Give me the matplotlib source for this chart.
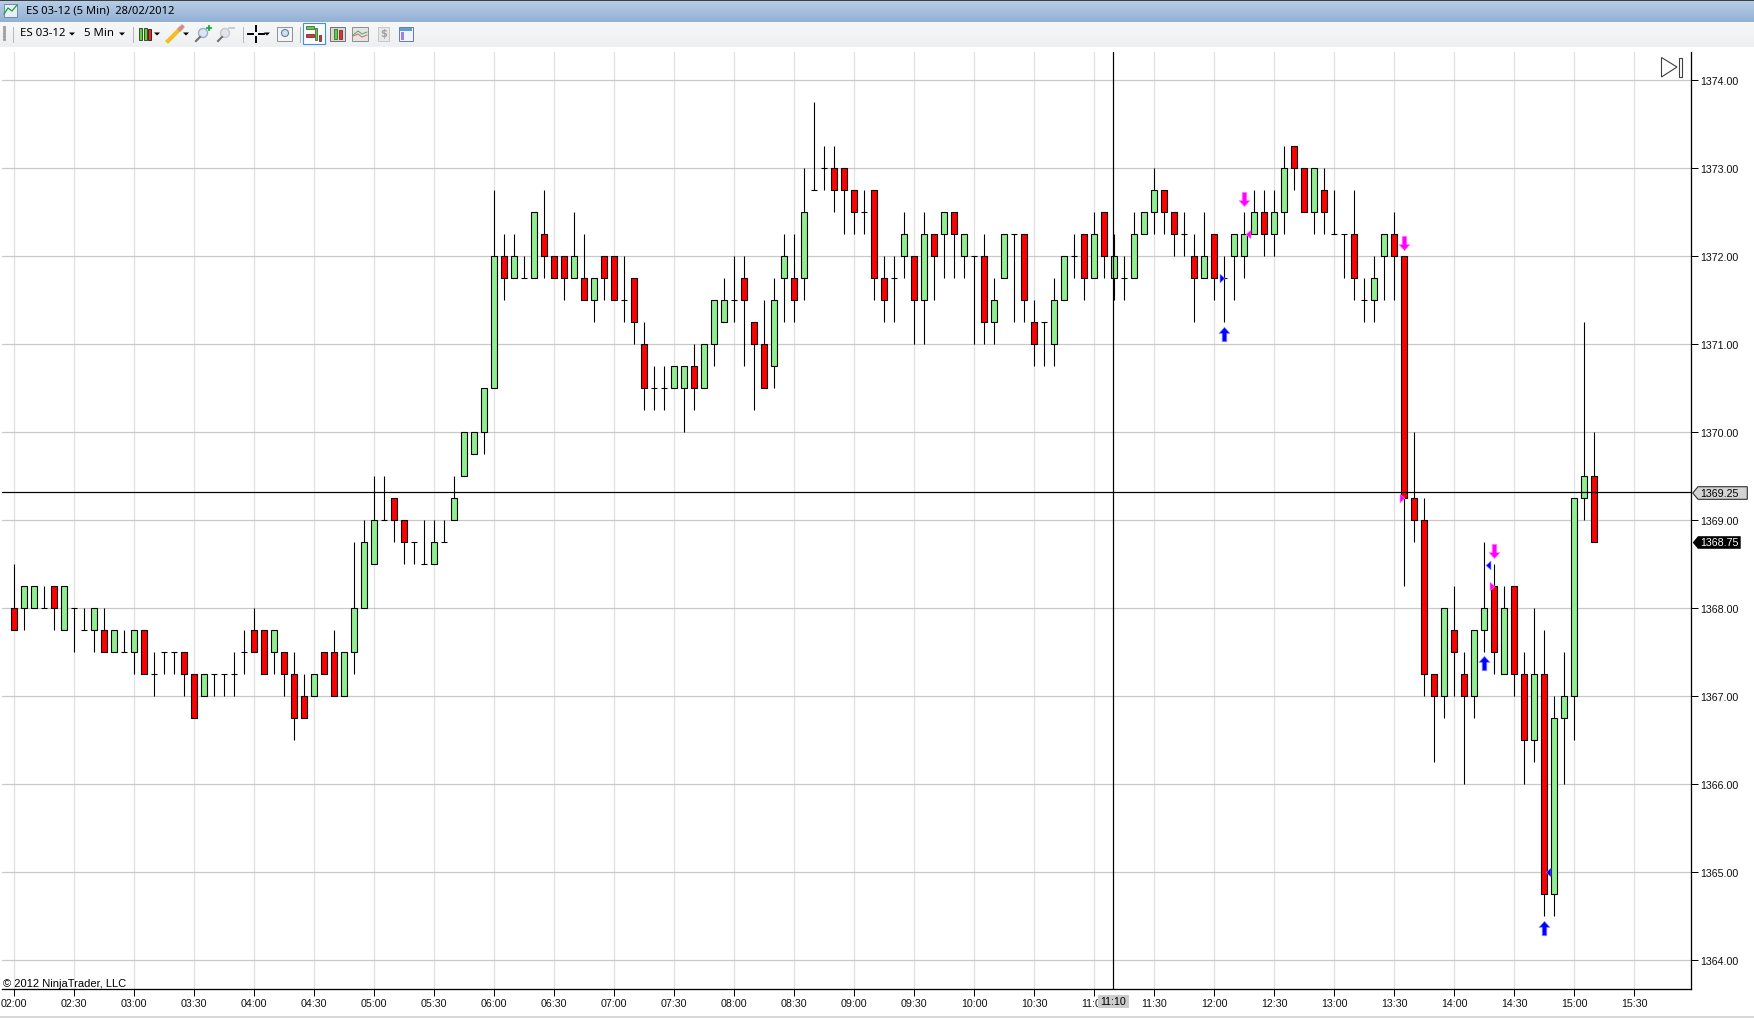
import numpy as np
import matplotlib
matplotlib.use("Agg")
import matplotlib.pyplot as plt
from matplotlib.path import Path
from matplotlib.patches import Polygon, Rectangle, Circle
from matplotlib.transforms import ScaledTranslation

W, H = 1754, 1018
PX = 72 / 100  # one pixel in points

opens = [1368,1368,1368,1368,1368.25,1367.75,1368,1367.75,1367.75,1367.75,
    1367.5,1367.5,1367.5,1367.75,1367.25,1367.5,1367.5,1367.5,1367.25,1367,
    1367.25,1367.25,1367.25,1367.5,1367.75,1367.75,1367.5,1367.5,1367.25,1367,
    1367,1367.5,1367.5,1367,1367.5,1368,1368.5,1369,1369.25,1369,
    1368.75,1368.5,1368.5,1368.75,1369,1369.5,1369.75,1370,1370.5,1372,
    1371.75,1371.75,1371.75,1372.25,1372,1372,1371.75,1371.75,1371.5,1372,
    1372,1371.5,1371.75,1371,1370.5,1370.5,1370.5,1370.5,1370.75,1370.5,
    1371,1371.25,1371.5,1371.75,1371.25,1371,1370.75,1371.75,1371.75,1371.75,
    1372.75,1373,1373,1373,1372.75,1372.5,1372.75,1371.75,1371.75,1372,
    1372,1371.5,1372.25,1372.25,1372.5,1372,1372,1372,1371.25,1371.75,
    1372.25,1372.25,1371.25,1371.25,1371,1371.5,1372,1372.25,1371.75,1372.5,
    1371.75,1371.75,1371.75,1372.25,1372.5,1372.75,1372.5,1372.25,1372,1371.75,
    1372.25,1371.75,1372,1372,1372.25,1372.5,1372.25,1372.5,1373.25,1373,
    1372.5,1372.75,1372.25,1372.25,1372.25,1371.5,1371.5,1372,1372.25,1372,
    1369.25,1369,1367.25,1367,1367.75,1367.25,1367,1367.75,1368.25,1367.25,
    1368.25,1367.25,1366.5,1367.25,1364.75,1366.75,1367,1369.25,1369.5]
highs = [1368.5,1368.25,1368.25,1368.25,1368.25,1368.25,1368,1368,1368,1368,
    1367.75,1367.75,1367.75,1367.75,1367.5,1367.5,1367.5,1367.5,1367.25,1367.25,
    1367.25,1367.25,1367.5,1367.75,1368,1367.75,1367.75,1367.5,1367.5,1367.25,
    1367.25,1367.5,1367.75,1367.5,1368.75,1369,1369.5,1369.5,1369.25,1369,
    1368.75,1369,1369,1369,1369.5,1370,1370,1370.5,1372.75,1372.25,
    1372.25,1372,1372.5,1372.75,1372,1372,1372.5,1372.25,1371.75,1372,
    1372,1372,1371.75,1371.25,1370.75,1370.75,1370.75,1370.75,1371,1371,
    1371.5,1371.75,1372,1372,1371.25,1371.5,1371.75,1372.25,1372.25,1373,
    1373.75,1373.25,1373.25,1373,1372.75,1372.75,1372.75,1372,1372,1372.5,
    1372,1372.5,1372.25,1372.5,1372.5,1372.25,1372,1372.25,1371.75,1372.25,
    1372.25,1372.25,1371.5,1371.25,1371.75,1372,1372.25,1372.25,1372.5,1372.5,
    1372.25,1372,1372.5,1372.5,1373,1372.75,1372.5,1372.5,1372.25,1372.5,
    1372.25,1372,1372.25,1372.5,1372.75,1372.75,1372.75,1373.25,1373.25,1373,
    1373,1373,1372.75,1372.25,1372.75,1371.75,1372,1372.25,1372.5,1372,
    1370,1369.25,1367.25,1368,1368.25,1367.5,1367.75,1368.75,1368.5,1368.25,
    1368.25,1367.5,1368,1367.75,1367,1367.5,1369.25,1371.25,1370]
lows = [1367.75,1367.75,1368,1368,1367.75,1367.75,1367.5,1367.75,1367.5,1367.5,
    1367.5,1367.5,1367.25,1367.25,1367,1367.25,1367.25,1367,1366.75,1367,
    1367,1367,1367,1367.25,1367.5,1367.25,1367.25,1367,1366.5,1366.75,
    1367,1367.25,1367,1367,1367.25,1368,1368.5,1369,1368.75,1368.5,
    1368.5,1368.5,1368.5,1368.75,1369,1369.5,1369.75,1369.75,1370.5,1371.5,
    1371.75,1371.75,1371.75,1371.75,1371.75,1371.5,1371.75,1371.5,1371.25,1371.5,
    1371.5,1371.25,1371,1370.25,1370.25,1370.25,1370.5,1370,1370.25,1370.5,
    1370.75,1371.25,1371.25,1370.75,1370.25,1370.5,1370.5,1371.25,1371.25,1371.5,
    1372.75,1372.75,1372.5,1372.25,1372.25,1372.25,1371.5,1371.25,1371.25,1371.75,
    1371,1371,1371.5,1371.75,1371.75,1371.75,1371,1371,1371,1371.75,
    1371.25,1371.25,1370.75,1370.75,1370.75,1371.5,1371.75,1371.5,1371.75,1371.75,
    1371.5,1371.5,1371.75,1372.25,1372.25,1372.25,1372,1372,1371.25,1371.75,
    1371.5,1371.25,1371.5,1371.75,1372.25,1372,1372,1372.25,1372.75,1372.5,
    1372.25,1372.25,1372.25,1371.75,1371.5,1371.25,1371.25,1371.5,1371.5,1368.25,
    1368.75,1367,1366.25,1366.75,1367,1366,1366.75,1367.5,1367.25,1367.25,
    1367,1366,1366.25,1364.5,1364.5,1366,1366.5,1369,1368.75]
closes = [1367.75,1368.25,1368.25,1368,1368,1368.25,1368,1367.75,1368,1367.5,
    1367.75,1367.5,1367.75,1367.25,1367.25,1367.5,1367.5,1367.25,1366.75,1367.25,
    1367.25,1367.25,1367.25,1367.5,1367.5,1367.25,1367.75,1367.25,1366.75,1366.75,
    1367.25,1367.25,1367,1367.5,1368,1368.75,1369,1369,1369,1368.75,
    1368.75,1368.5,1368.75,1368.75,1369.25,1370,1370,1370.5,1372,1371.75,
    1372,1371.75,1372.5,1372,1371.75,1371.75,1372,1371.5,1371.75,1371.75,
    1371.5,1371.5,1371.25,1370.5,1370.5,1370.5,1370.75,1370.75,1370.5,1371,
    1371.5,1371.5,1371.5,1371.5,1371,1370.5,1371.5,1372,1371.5,1372.5,
    1372.75,1373,1372.75,1372.75,1372.5,1372.5,1371.75,1371.5,1371.75,1372.25,
    1371.5,1372.25,1372,1372.5,1372.25,1372.25,1372,1371.25,1371.5,1372.25,
    1372.25,1371.5,1371,1371.25,1371.5,1372,1372,1371.75,1372.25,1372,
    1372,1371.75,1372.25,1372.5,1372.75,1372.5,1372.25,1372.25,1371.75,1372,
    1371.75,1371.75,1372.25,1372.25,1372.5,1372.25,1372.5,1373,1373,1372.5,
    1373,1372.5,1372.25,1372.25,1371.75,1371.5,1371.75,1372.25,1372,1369.25,
    1369,1367.25,1367,1368,1367.5,1367,1367.75,1368,1367.5,1368,
    1367.25,1366.5,1367.25,1364.75,1366.75,1367,1369.25,1369.5,1368.75]

time_labels = ["02:00","02:30","03:00","03:30","04:00","04:30","05:00","05:30","06:00",
    "06:30","07:00","07:30","08:00","08:30","09:00","09:30","10:00","10:30","11:00",
    "11:30","12:00","12:30","13:00","13:30","14:00","14:30","15:00","15:30"]
price_ticks = [1364,1365,1366,1367,1368,1369,1370,1371,1372,1373,1374]

# signal arrows: bar index, price
buy_bars, buy_prices = [121,147,153], [1371.114,1367.374,1364.364]
sell_bars, sell_prices = [123,139,148], [1372.65,1372.15,1368.65]
# small fill triangles
blue_right = ([120.8],[1371.745])
blue_left = ([147.35,153.35],[1368.49,1365.0])
pink_left = ([123.35],[1372.245])
pink_right = ([138.8,147.8],[1369.245,1368.245])

cross_bar, cross_price = 109.9, 1369.318
cross_time, cross_label = "11:10", "1369.25"
last_price = 1368.75

# pixel layout of the window. agg snaps a 1px line to floor(x + .5) + .5 so
# whole numbers here land the lines on the same pixels as the screenshot
LEFT, RIGHT, TOP, BOTTOM = 2, 1691, 52, 989
X0, Y0 = 14, 520
def bar_px(i):
    return X0 + 10 * i
def price_px(p):
    return Y0 + (1369 - p) * 88

fig = plt.figure(figsize=(W / 100, H / 100), dpi=100, facecolor="white")
ax = fig.add_axes([LEFT / W, 1 - BOTTOM / H, (RIGHT - LEFT) / W, (BOTTOM - TOP) / H])
ax.set_xlim((LEFT - X0) / 10, (RIGHT - X0) / 10)
ax.set_ylim(1369 - (BOTTOM - Y0) / 88, 1369 + (Y0 - TOP) / 88)

FONT = "Liberation Sans"
ax.set_xticks(np.arange(len(time_labels)) * 6)
ax.set_xticklabels(time_labels, fontsize=7.7, family=FONT, color="#101010")
ax.set_yticks(price_ticks)
ax.set_yticklabels(["%.2f" % p for p in price_ticks], fontsize=7.7, family=FONT, color="#101010")
ax.yaxis.tick_right()
ax.tick_params(length=7 * PX, width=1 * PX, color="black", pad=1.5)
ax.tick_params(axis="x", pad=2.2)
down_shift = ScaledTranslation(0, -0.7 / 100, fig.dpi_scale_trans)
for lab in ax.get_yticklabels():
    lab.set_transform(lab.get_transform() + down_shift)
for s in ["left", "top"]:
    ax.spines[s].set_visible(False)
for s in ["right", "bottom"]:
    ax.spines[s].set_linewidth(1.3 * PX)
ax.set_axisbelow(True)
ax.xaxis.grid(True, color="#e0e0e0", linewidth=1.2 * PX)
ax.yaxis.grid(True, color="#c8c8c8", linewidth=1.2 * PX)

x = np.arange(len(opens))
o, h, l, c = map(np.array, (opens, highs, lows, closes))
ax.vlines(x, l, h, color="black", linewidth=1.1 * PX, zorder=2)
up = c > o
down = c < o
flat = c == o
ax.bar(x[up], (c - o)[up], bottom=o[up], width=0.6, color="#90ee90", edgecolor="black", linewidth=1.1 * PX, zorder=3)
ax.bar(x[down], (o - c)[down], bottom=c[down], width=0.6, color="#ff0000", edgecolor="black", linewidth=1.1 * PX, zorder=3)
ax.hlines(o[flat], x[flat] - 0.33, x[flat] + 0.33, color="black", linewidth=1.1 * PX, zorder=3)

# crosshair sits over the bars
ax.axvline(cross_bar, color="black", linewidth=1.2 * PX, zorder=4)
ax.axhline(cross_price, color="black", linewidth=1.2 * PX, zorder=4)

arrow_up = Path([(0, 1), (0.75, 0.15), (0.32, 0.15), (0.32, -1), (-0.32, -1), (-0.32, 0.15), (-0.75, 0.15), (0, 1)], closed=True)
arrow_dn = Path([(0, -1), (0.75, -0.15), (0.32, -0.15), (0.32, 1), (-0.32, 1), (-0.32, -0.15), (-0.75, -0.15), (0, -1)], closed=True)
tri_r = Path([(0.55, 0), (-0.55, 1), (-0.55, -1), (0.55, 0)], closed=True)
tri_l = Path([(-0.55, 0), (0.55, 1), (0.55, -1), (-0.55, 0)], closed=True)
ax.plot(buy_bars, buy_prices, ls="", marker=arrow_up, ms=14.5 * PX, mfc="#0000ff", mec="#9090ff", mew=0.5, zorder=5)
ax.plot(sell_bars, sell_prices, ls="", marker=arrow_dn, ms=14.5 * PX, mfc="#ff00ff", mec="#ff90ff", mew=0.5, zorder=5)
ax.plot(*blue_right, ls="", marker=tri_r, ms=9 * PX, mfc="#0000ff", mec="#9090ff", mew=0.4, zorder=5)
ax.plot(*blue_left, ls="", marker=tri_l, ms=9 * PX, mfc="#0000ff", mec="#9090ff", mew=0.4, zorder=5)
ax.plot(*pink_left, ls="", marker=tri_l, ms=9 * PX, mfc="#ff00ff", mec="#ff90ff", mew=0.4, zorder=5)
ax.plot(*pink_right, ls="", marker=tri_r, ms=9 * PX, mfc="#ff00ff", mec="#ff90ff", mew=0.4, zorder=5)

# window chrome goes on a pixel-coordinates overlay
ui = fig.add_axes([0, 0, 1, 1], zorder=10)
ui.patch.set_visible(False)
ui.axis("off")
grad = np.linspace(0, 1, 22)[:, None, None]
top_c, bot_c = np.array([0.72, 0.81, 0.91]), np.array([0.58, 0.69, 0.83])
ui.imshow(top_c + (bot_c - top_c) * grad, extent=(0, W, 22, 0), aspect="auto", zorder=0)
grad = np.linspace(0, 1, 25)[:, None, None]
top_c, bot_c = np.array([0.97, 0.97, 0.97]), np.array([0.93, 0.94, 0.95])
ui.imshow(top_c + (bot_c - top_c) * grad, extent=(0, W, 47, 22), aspect="auto", zorder=0)
ui.set_xlim(0, W)
ui.set_ylim(H, 0)
ui.add_patch(Rectangle((0, 0), W, 1, fc="#404040", ec="none"))
ui.add_patch(Rectangle((0, 1016), W, 2, fc="#d8d8d8", ec="none"))

ui.text(26, 11.2, "ES 03-12 (5 Min)  28/02/2012", fontsize=8.05, family="Noto Sans", va="center", color="black")
ui.text(20, 33.5, "ES 03-12", fontsize=8.2, family="Noto Sans", va="center", color="black")
ui.text(84, 33.5, "5 Min", fontsize=8.2, family="Noto Sans", va="center", color="black")
ui.text(3, 984, "\u00a9 2012 NinjaTrader, LLC", fontsize=8, family=FONT, va="center", color="black")

def tri(xc, yc=34):
    ui.add_patch(Polygon([(xc - 3, yc - 1.5), (xc + 3, yc - 1.5), (xc, yc + 1.5)], fc="black", ec="none"))
def sep(xc):
    ui.plot([xc, xc], [27, 42], color="#b8b8b8", lw=1 * PX)
def rect(x0, y0, w, hh, fc, ec="black", lw=0.7):
    ui.add_patch(Rectangle((x0, y0), w, hh, fc=fc, ec=ec, lw=lw))

ui.plot([3.5] * 5, [27, 30, 33, 36, 39], ls="", marker="s", ms=1.2, color="#a0a0a0")
for xc in (12.5, 132.5, 243, 300):
    sep(xc)
for xc in (72, 122, 157, 186, 267):
    tri(xc)

# chart icon
rect(4, 4, 13, 13, "#e8eef8", "#6080a0", 0.6)
ui.plot([4, 8, 12, 17], [14, 8, 11, 5], color="#20a030", lw=0.9)
# candlesticks
rect(139, 28, 3, 12, "#60d040", "#305020", 0.7)
rect(143.5, 28, 3, 12, "#60d040", "#305020", 0.7)
rect(148, 29, 3, 11, "#e03030", "#502020", 0.7)
# pencil
ui.plot([168, 180], [41, 29], color="#f0c020", lw=3)
ui.plot([180, 182], [29, 27], color="#d09090", lw=3)
# zoom in / out
for xc, col in ((203, "#9ab0c8"), (225, "#c8c8c8")):
    ui.add_patch(Circle((xc, 33), 4.5, fc="#dde6f0", ec=col, lw=1))
    ui.plot([xc - 3, xc - 7], [37, 41], color="#707070", lw=1.5)
ui.plot([207, 211, np.nan, 209, 209], [28, 28, np.nan, 26, 30], color="#10b030", lw=1.3)
ui.plot([229, 234], [28, 28], color="#c8c8c8", lw=1.3)
# crosshair button
ui.plot([248, 253, np.nan, 259, 264, np.nan, 256, 256, np.nan, 256, 256],
        [34, 34, np.nan, 34, 34, np.nan, 26, 31, np.nan, 37, 42], color="black", lw=1.4)
# zoom box
rect(277, 27, 15, 14, "#f4f4f4", "#909090", 0.7)
ui.add_patch(Circle((285, 33), 3.5, fc="#cfe0f0", ec="#6080a0", lw=0.8))
# selected button
rect(303, 23, 22, 21, "#fafcff", "#4090e0", 0.8)
rect(306, 26, 8, 3, "#60d040", "#305020", 0.5)
rect(306, 34, 8, 3, "#e03030", "#502020", 0.5)
rect(315, 28, 2, 12, "#60d040", "#305020", 0.5)
rect(319, 35, 2, 6, "#e03030", "#502020", 0.5)
# other buttons
rect(330, 27, 15, 14, "#d8d8d8", "#606060", 0.6)
rect(334, 29, 2.5, 10, "#60d040", "#305020", 0.5)
rect(339, 30, 2.5, 9, "#e03030", "#502020", 0.5)
rect(352, 27, 16, 14, "#e4e4e4", "#808080", 0.6)
ui.plot([353, 358, 362, 367], [35, 31, 34, 32], color="#40b060", lw=0.7)
ui.plot([353, 358, 362, 367], [36, 34, 37, 35], color="#e06060", lw=0.7)
rect(378, 27, 11, 14, "#e8e8e8", "#c0c0c0", 0.6)
ui.text(383.5, 34, "$", fontsize=7, color="#a0a0a0", ha="center", va="center", weight="bold")
rect(399, 27, 14, 14, "#f0f4fa", "#6080a0", 0.7)
rect(400, 28, 12, 2.5, "#60a0d0", "none")
rect(401, 32, 3, 8, "#a080e0", "none")

# go-to-end button
ui.add_patch(Polygon([(1661.5, 57.5), (1677, 67), (1661.5, 77)], fc="white", ec="#404040", lw=0.8))
rect(1678.5, 57.5, 3.2, 19.5, "white", "#404040", 0.8)

# price flags
yc = price_px(cross_price) + 1
ui.add_patch(Polygon([(1692.7, yc), (1698, yc - 6.3), (1747.3, yc - 6.3), (1747.3, yc + 6.3), (1698, yc + 6.3)],
                     fc="#d3d3d3", ec="#303030", lw=0.8))
ui.text(1700, yc + 0.5, cross_label, fontsize=7.7, family=FONT, va="center", color="black")
yc = price_px(last_price) + 0.5
ui.add_patch(Polygon([(1692.7, yc), (1698, yc - 6.3), (1740.7, yc - 6.3), (1740.7, yc + 6.3), (1698, yc + 6.3)],
                     fc="black", ec="none"))
ui.text(1700, yc + 0.5, "%.2f" % last_price, fontsize=7.7, family=FONT, va="center", color="white")

# time flag covers part of the 11:00 label
xc = bar_px(cross_bar)
ui.add_patch(Rectangle((xc - 15.2, 995), 31, 13, fc="#cccccc", ec="none"))
ui.text(xc, 1002, cross_time, fontsize=7.7, family=FONT, ha="center", va="center", color="black")

fig.savefig("out.png", dpi=100)
